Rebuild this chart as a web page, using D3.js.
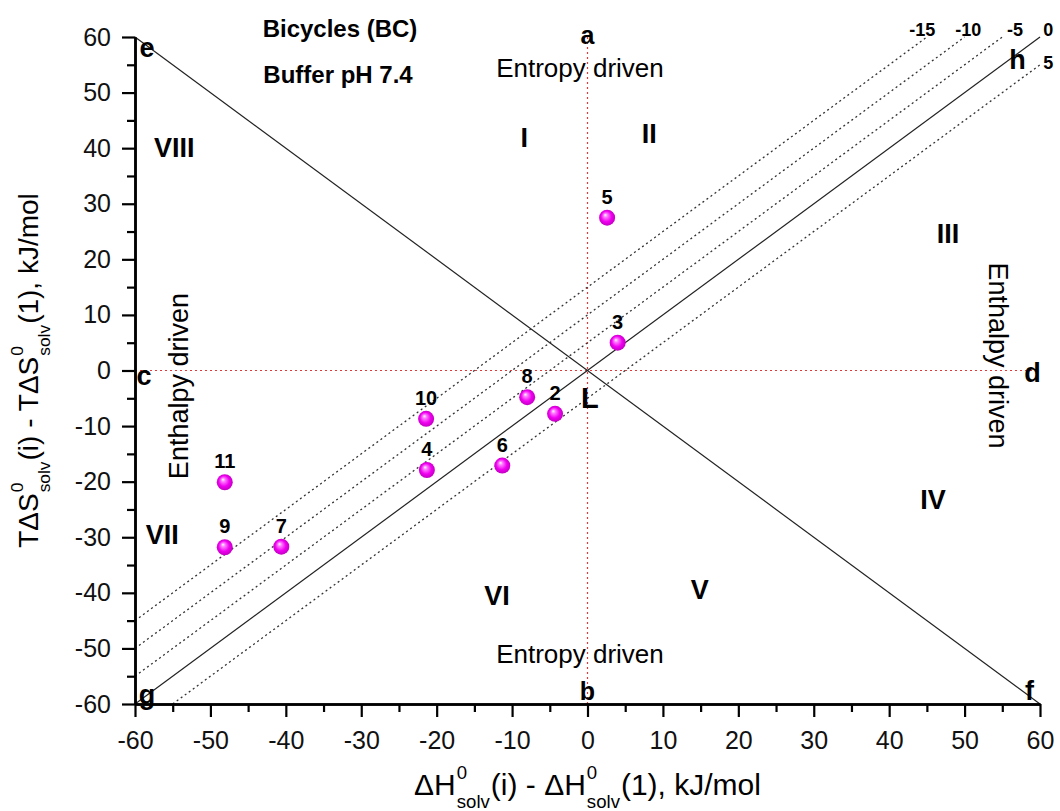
<!DOCTYPE html>
<html>
<head>
<meta charset="utf-8">
<script src="https://cdn.jsdelivr.net/npm/d3@7"></script>
<style>
  body { margin: 0; background: #fff; }
  svg { font-family: "Liberation Sans", Arial, sans-serif; }
</style>
</head>
<body>
<svg id="chart" width="1060" height="811"></svg>
<script>
// data

const pointIds = ["2", "3", "4", "5", "6", "7", "8", "9", "10", "11"];
const dH  = [-4.3, 4.0, -21.3, 2.6, -11.3, -40.6, -8.0, -48.1, -21.4, -48.1];
const TdS = [-7.8, 5.0, -17.9, 27.5, -17.1, -31.7, -4.8, -31.8, -8.7, -20.1];

const majorTicks = d3.range(-60, 61, 10);
const minorTicks = d3.range(-55, 60, 10);

// dG = dH - TdS  -> lines TdS = dH - dG
const isoLevels = [-15, -10, -5, 5];
const isoLabels = ["-15", "-10", "-5", "0", "5"];
const isoLabelX = [44.4, 50.5, 56.7, 61.1, 61.1];
const isoLabelY = [61.4, 61.4, 61.4, 61.4, 55.4];

const regionNames = ["I", "II", "III", "IV", "V", "VI", "VII", "VIII"];
const regionX = [-8.4, 8.2, 47.8, 45.8, 14.9, -12.0, -56.4, -54.8];
const regionY = [42.0, 42.7, 24.7, -23.2, -39.3, -40.4, -29.4, 40.2];

const cornerNames = ["a", "b", "c", "d", "e", "f", "g", "h", "L"];
const cornerX = [0, 0, -58.8, 59.0, -58.4, 58.6, -58.4, 57.0, 0.3];
const cornerY = [60.4, -57.6, -0.8, -0.4, 58.2, -57.6, -58.3, 56.0, -4.9];

// layout

let margin = {left: 135, right: 20, top: 37, bottom: 107};
let width = 1060, height = 811;
let viewWidth = width - margin.left - margin.right;
let viewHeight = height - margin.top - margin.bottom;

let svg = d3.select("#chart");
let plot = svg.append("g")
              .attr("transform", `translate(${margin.left},${margin.top})`);

let x = d3.scaleLinear().domain([-60, 60]).range([0, viewWidth]);
let y = d3.scaleLinear().domain([-60, 60]).range([viewHeight, 0]);

function drawGuides() {
    // red dotted axes through zero
    plot.append("line")
        .attr("x1", x(0)).attr("x2", x(0))
        .attr("y1", y(-60)).attr("y2", y(60))
        .style("stroke", "#e03a3a").style("stroke-width", 1.2)
        .style("stroke-dasharray", "2,3");
    plot.append("line")
        .attr("x1", x(-60)).attr("x2", x(60))
        .attr("y1", y(0)).attr("y2", y(0))
        .style("stroke", "#e03a3a").style("stroke-width", 1.2)
        .style("stroke-dasharray", "2,3");

    // solid diagonals e-f and g-h
    plot.append("line")
        .attr("x1", x(-60)).attr("y1", y(60))
        .attr("x2", x(60)).attr("y2", y(-60))
        .style("stroke", "#222").style("stroke-width", 1.2);
    plot.append("line")
        .attr("x1", x(-60)).attr("y1", y(-60))
        .attr("x2", x(60)).attr("y2", y(60))
        .style("stroke", "#222").style("stroke-width", 1.2);

    // dotted iso-dG lines
    isoLevels.forEach(g => {
        let k = -g;
        let x0 = Math.max(-60, -60 - k), x1 = Math.min(60, 60 - k);
        plot.append("line")
            .attr("x1", x(x0)).attr("y1", y(x0 + k))
            .attr("x2", x(x1)).attr("y2", y(x1 + k))
            .style("stroke", "#333").style("stroke-width", 1.3)
            .style("stroke-dasharray", "2,3");
    });
}

function drawAxes() {
    let fmt = d => String(d);
    let xAxis = plot.append("g")
                    .attr("transform", `translate(0,${viewHeight})`)
                    .call(d3.axisBottom(x).tickValues(majorTicks).tickFormat(fmt)
                            .tickSize(13).tickSizeOuter(0).tickPadding(14));
    let xMinor = plot.append("g")
                     .attr("transform", `translate(0,${viewHeight})`)
                     .call(d3.axisBottom(x).tickValues(minorTicks)
                             .tickSize(8).tickSizeOuter(0).tickFormat(""));
    let yAxis = plot.append("g")
                    .call(d3.axisLeft(y).tickValues(majorTicks).tickFormat(fmt)
                            .tickSize(13).tickSizeOuter(0).tickPadding(11));
    let yMinor = plot.append("g")
                     .call(d3.axisLeft(y).tickValues(minorTicks)
                             .tickSize(8).tickSizeOuter(0).tickFormat(""));

    [xAxis, xMinor, yAxis, yMinor].forEach(a => {
        a.select(".domain").style("stroke", "#000").style("stroke-width", 2.5);
        a.selectAll(".tick line").style("stroke", "#000").style("stroke-width", 2.2);
        a.selectAll(".tick text")
         .style("font-family", "Liberation Sans, Arial, sans-serif")
         .style("font-size", "25px").style("fill", "#111");
    });
}

// axis title with stacked super/subscripts
function drawStackedLabel(g, parts, size) {
    let cursor = 0;
    parts.forEach(p => {
        if (p.t) {
            let t = g.append("text").attr("x", cursor).attr("y", 0)
                     .style("font-size", size + "px").text(p.t);
            cursor += t.node().getComputedTextLength();
        } else {
            let s = g.append("text").attr("x", cursor + 1).attr("y", -size * 0.52)
                     .style("font-size", (size * 0.62) + "px").text(p.sup);
            let b = g.append("text").attr("x", cursor + 1).attr("y", size * 0.42)
                     .style("font-size", (size * 0.62) + "px").text(p.sub);
            cursor += Math.max(s.node().getComputedTextLength(),
                               b.node().getComputedTextLength()) + 2;
        }
    });
    g.selectAll("text").attr("x", function() { return +d3.select(this).attr("x") - cursor / 2; });
}

function drawTitles() {
    let gx = svg.append("g")
                .attr("transform", `translate(${margin.left + x(0)},795)`);
    drawStackedLabel(gx, [{t: "\u0394H"}, {sup: "0", sub: "solv"},
                          {t: "(i) - \u0394H"}, {sup: "0", sub: "solv"},
                          {t: "(1), kJ/mol"}], 30);

    let gy = svg.append("g")
                .attr("transform", `translate(38,${margin.top + y(0)}) rotate(-90)`);
    drawStackedLabel(gy, [{t: "T\u0394S"}, {sup: "0", sub: "solv"},
                          {t: "(i) - T\u0394S"}, {sup: "0", sub: "solv"},
                          {t: "(1), kJ/mol"}], 28);
}

function drawAnnotations() {
    svg.append("text").attr("x", 340).attr("y", 37)
       .attr("text-anchor", "middle")
       .style("font-size", "24px").style("font-weight", "bold")
       .text("Bicycles (BC)");
    svg.append("text").attr("x", 338).attr("y", 83)
       .attr("text-anchor", "middle")
       .style("font-size", "24px").style("font-weight", "bold")
       .text("Buffer pH 7.4");

    plot.append("text").attr("x", x(-1.0)).attr("y", y(52.8))
        .attr("text-anchor", "middle").style("font-size", "26px")
        .text("Entropy driven");
    plot.append("text").attr("x", x(-1.0)).attr("y", y(-52.6))
        .attr("text-anchor", "middle").style("font-size", "26px")
        .text("Entropy driven");
    plot.append("text")
        .attr("transform", `translate(${x(-53.0)},${y(-2.8)}) rotate(-90)`)
        .attr("text-anchor", "middle").style("font-size", "27px")
        .text("Enthalpy driven");
    plot.append("text")
        .attr("transform", `translate(${x(53.3)},${y(2.7)}) rotate(90)`)
        .attr("text-anchor", "middle").style("font-size", "27px")
        .text("Enthalpy driven");

    plot.selectAll(".region")
        .data(regionNames)
        .join("text")
        .attr("class", "region")
        .attr("x", (d, i) => x(regionX[i]))
        .attr("y", (d, i) => y(regionY[i]))
        .attr("dy", "0.36em")
        .attr("text-anchor", "middle")
        .style("font-size", "27px").style("font-weight", "bold")
        .text(d => d);

    plot.selectAll(".corner")
        .data(cornerNames)
        .join("text")
        .attr("class", "corner")
        .attr("x", (d, i) => x(cornerX[i]))
        .attr("y", (d, i) => y(cornerY[i]))
        .attr("dy", "0.36em")
        .attr("text-anchor", "middle")
        .style("font-size", d => d === "L" ? "29px" : (d === "a" || d === "b") ? "25px" : "27px")
        .style("font-weight", "bold")
        .text(d => d);

    plot.selectAll(".iso")
        .data(isoLabels)
        .join("text")
        .attr("class", "iso")
        .attr("x", (d, i) => x(isoLabelX[i]))
        .attr("y", (d, i) => y(isoLabelY[i]))
        .attr("dy", "0.36em")
        .attr("text-anchor", "middle")
        .style("font-size", "18px").style("font-weight", "bold")
        .text(d => d);
}

function drawPoints() {
    let grad = svg.append("defs").append("radialGradient")
                  .attr("id", "ball")
                  .attr("cx", "50%").attr("cy", "50%").attr("r", "55%")
                  .attr("fx", "38%").attr("fy", "32%");
    grad.append("stop").attr("offset", "0%").attr("stop-color", "#ffffff");
    grad.append("stop").attr("offset", "22%").attr("stop-color", "#ff7cff");
    grad.append("stop").attr("offset", "60%").attr("stop-color", "#f000f0");
    grad.append("stop").attr("offset", "100%").attr("stop-color", "#b800b8");

    plot.selectAll(".pt")
        .data(pointIds)
        .join("circle")
        .attr("class", "pt")
        .attr("cx", (d, i) => x(dH[i]))
        .attr("cy", (d, i) => y(TdS[i]))
        .attr("r", 8)
        .style("fill", "url(#ball)");

    plot.selectAll(".ptlabel")
        .data(pointIds)
        .join("text")
        .attr("class", "ptlabel")
        .attr("x", (d, i) => x(dH[i]))
        .attr("y", (d, i) => y(TdS[i]) - 14)
        .attr("text-anchor", "middle")
        .style("font-size", "20px").style("font-weight", "bold")
        .text(d => d);
}

drawGuides();
drawAxes();
drawTitles();
drawAnnotations();
drawPoints();
</script>
</body>
</html>
